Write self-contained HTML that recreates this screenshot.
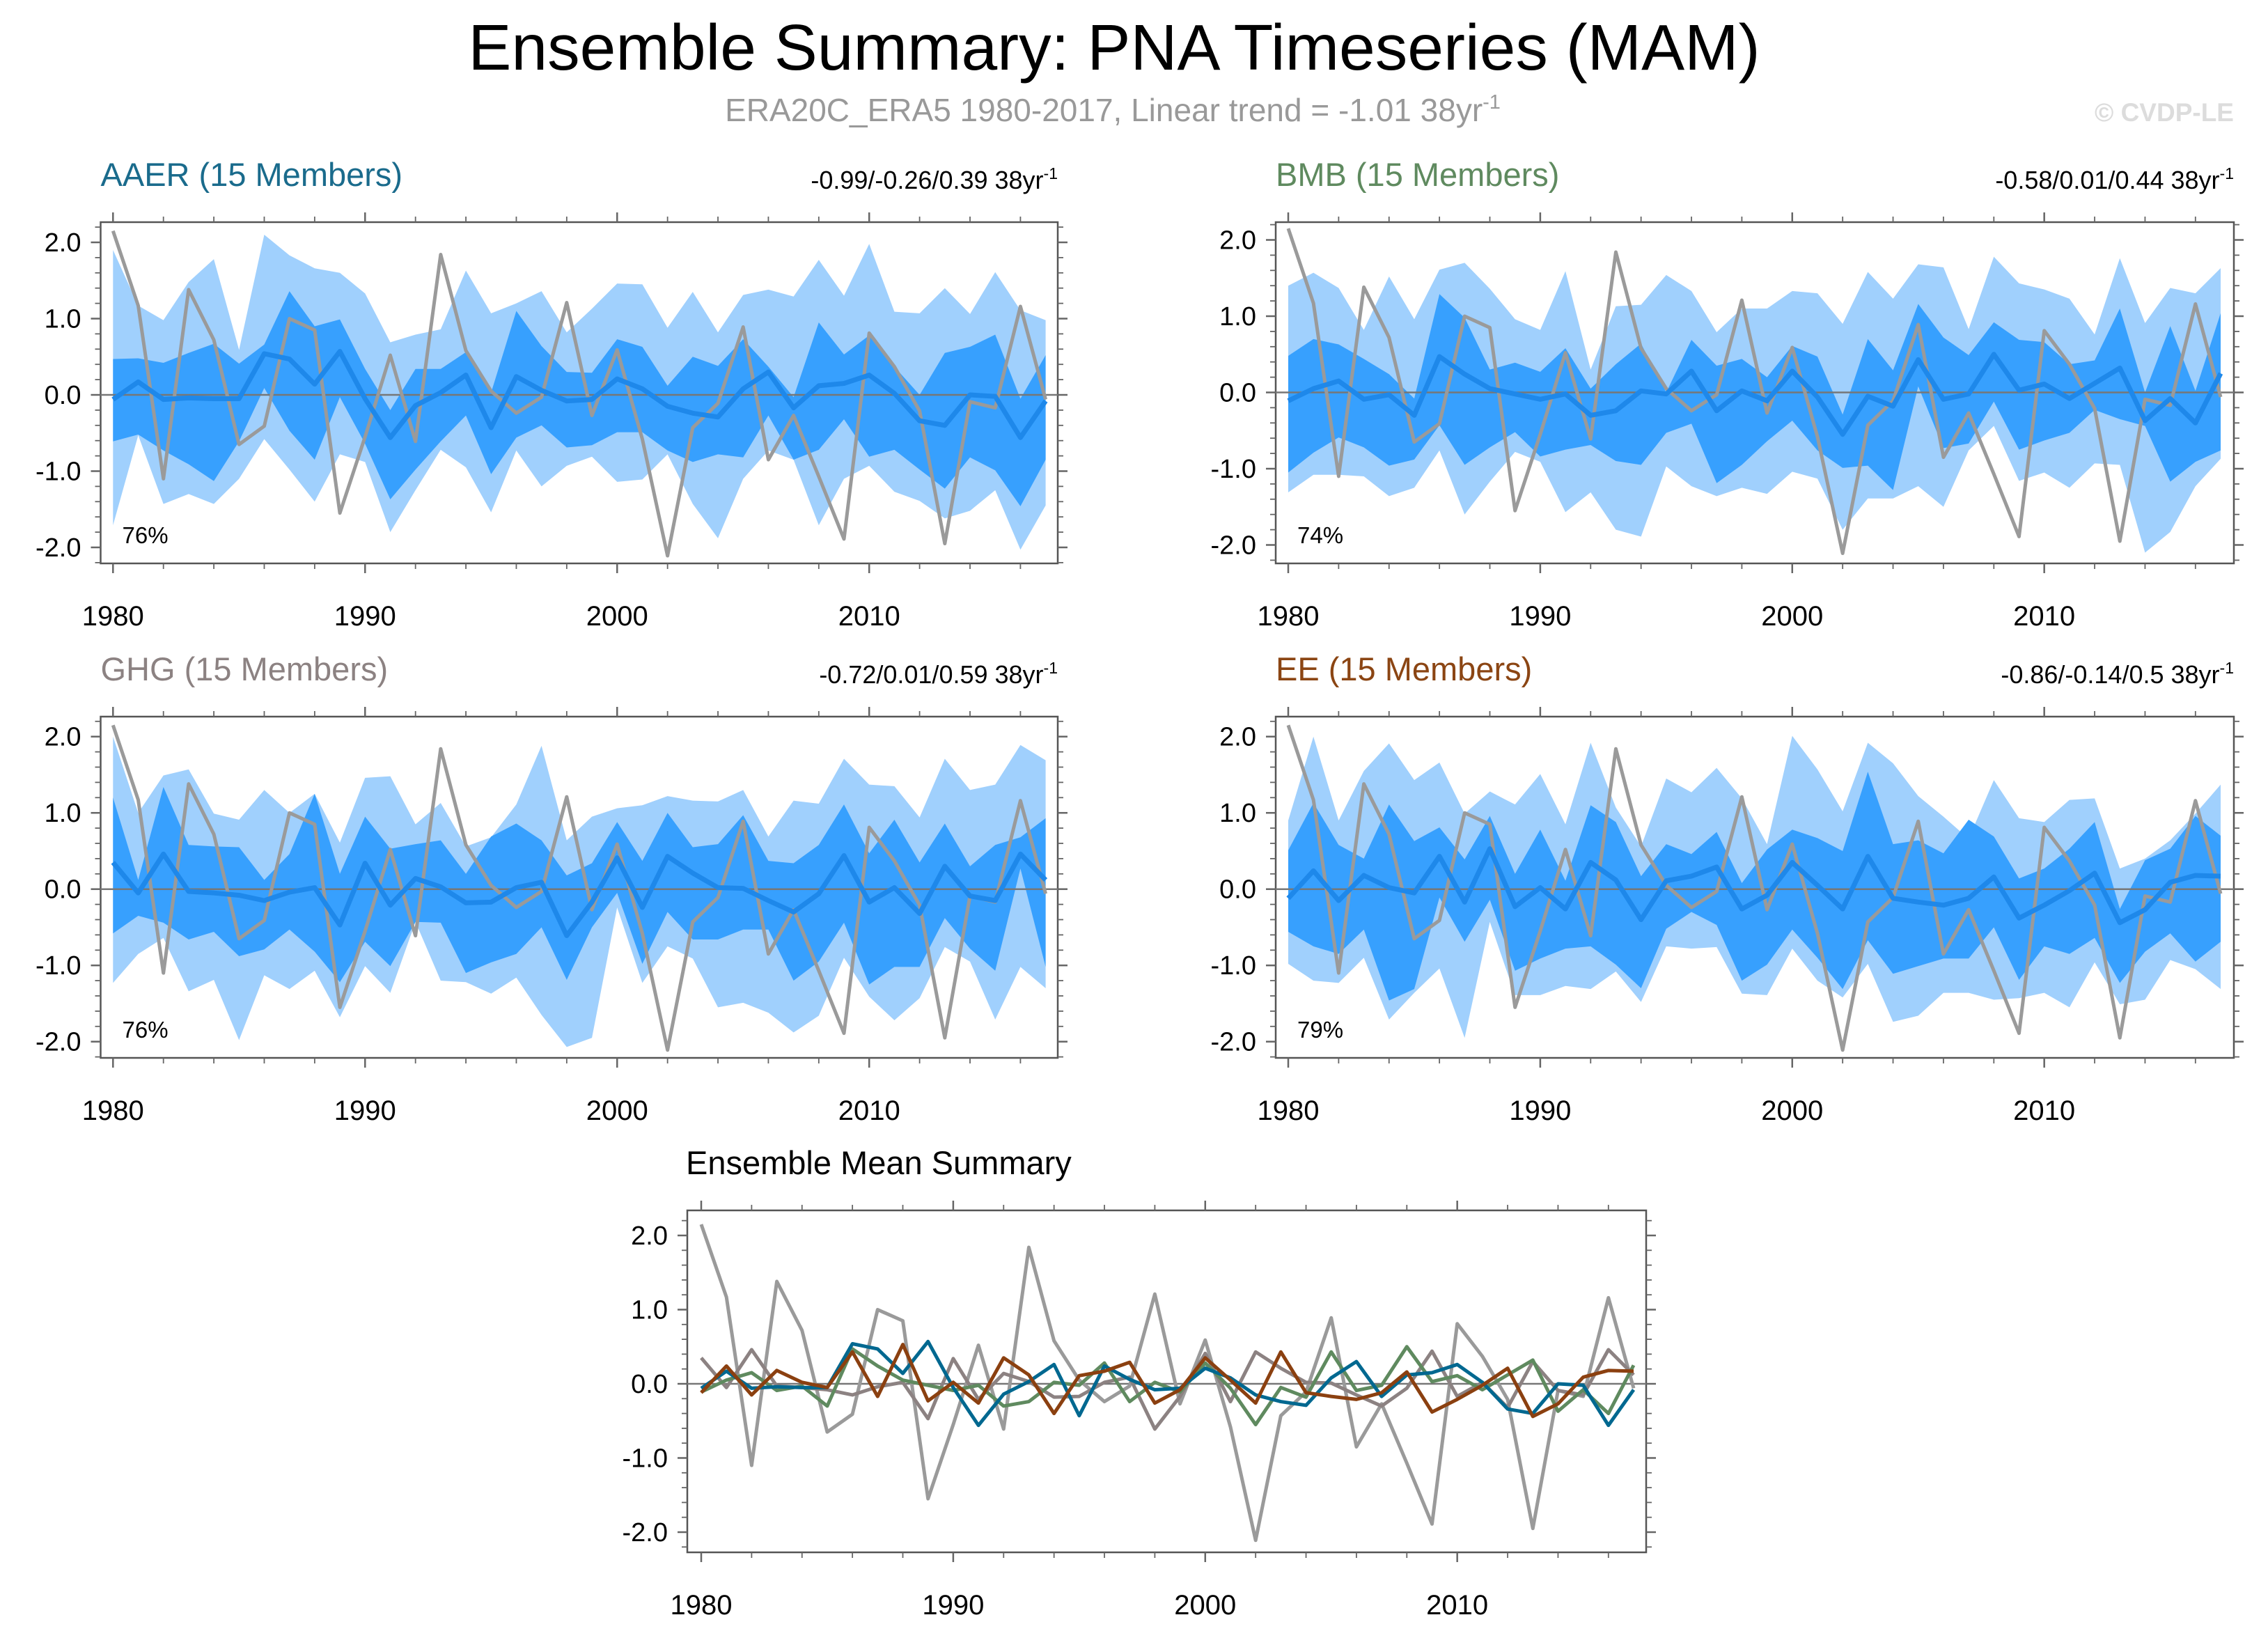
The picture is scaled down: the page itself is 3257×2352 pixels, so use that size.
<!DOCTYPE html>
<html><head><meta charset="utf-8"><style>
html,body{margin:0;padding:0;background:#fff;}
svg{display:block;font-family:"Liberation Sans",sans-serif;}
</style></head><body>
<svg id="root" width="3257" height="2352" viewBox="0 0 3257 2352" xmlns="http://www.w3.org/2000/svg">
<text x="1600" y="100" font-size="93" text-anchor="middle" fill="#000">Ensemble Summary: PNA Timeseries (MAM)</text>
<text x="1598" y="174" font-size="46" text-anchor="middle" fill="#999">ERA20C_ERA5 1980-2017, Linear trend = -1.01 38yr<tspan dy="-18" font-size="29">-1</tspan></text>
<text x="3208" y="174" font-size="37" font-weight="bold" text-anchor="end" fill="#dcdcdc">© CVDP-LE</text>
</svg>
<script>
const years = [];
for (let y = 1980; y <= 2017; y++) years.push(y);
const yTickLabels = ["-2.0","-1.0","0.0","1.0","2.0"];
const yTickValues = [-2,-1,0,1,2];
const xTickYears = [1980,1990,2000,2010];

const obs = [2.15,1.17,-1.1,1.38,0.72,-0.65,-0.41,1.0,0.85,-1.55,-0.55,0.52,-0.61,1.84,0.58,0.05,-0.24,-0.03,1.21,-0.27,0.59,-0.58,-2.11,-0.43,-0.11,0.89,-0.85,-0.27,-1.07,-1.89,0.81,0.37,-0.21,-1.95,-0.09,-0.17,1.16,-0.06];

const aaerMean = [-0.06,0.17,-0.06,-0.04,-0.05,-0.05,0.54,0.47,0.14,0.57,-0.05,-0.56,-0.14,0.03,0.26,-0.43,0.24,0.06,-0.08,-0.06,0.21,0.08,-0.15,-0.24,-0.29,0.08,0.3,-0.17,0.12,0.15,0.26,0.02,-0.34,-0.4,0.0,-0.02,-0.56,-0.08];
const aaerIqrHi = [0.47,0.48,0.42,0.55,0.67,0.41,0.66,1.36,0.9,0.99,0.34,-0.2,0.34,0.34,0.56,0.03,1.1,0.64,0.3,0.29,0.73,0.63,0.12,0.5,0.38,0.73,0.37,-0.03,0.95,0.53,0.78,0.37,0.0,0.55,0.63,0.79,-0.05,0.52];
const aaerIqrLo = [-0.61,-0.52,-0.73,-0.91,-1.13,-0.61,0.09,-0.47,-0.85,-0.03,-0.64,-1.37,-0.98,-0.61,-0.27,-1.04,-0.56,-0.4,-0.69,-0.66,-0.49,-0.49,-0.73,-0.88,-0.78,-0.82,-0.27,-0.85,-0.72,-0.32,-0.81,-0.72,-0.98,-1.23,-0.82,-0.99,-1.46,-0.85];
const aaerMaxV = [1.9,1.17,0.98,1.48,1.78,0.59,2.1,1.83,1.66,1.6,1.33,0.69,0.79,0.86,1.63,1.07,1.2,1.36,0.82,1.13,1.46,1.45,0.88,1.35,0.82,1.31,1.38,1.29,1.77,1.3,1.98,1.09,1.07,1.4,1.06,1.61,1.11,0.98];
const aaerMinV = [-1.71,-0.53,-1.43,-1.3,-1.43,-1.1,-0.58,-0.98,-1.4,-0.78,-0.88,-1.8,-1.25,-0.72,-0.95,-1.54,-0.73,-1.2,-0.93,-0.81,-1.14,-1.11,-0.78,-1.43,-1.88,-1.1,-0.73,-0.85,-1.71,-1.1,-0.93,-1.27,-1.39,-1.62,-1.52,-1.25,-2.03,-1.45];

const bmbMean = [-0.11,0.05,0.15,-0.09,-0.03,-0.3,0.47,0.24,0.05,-0.02,-0.09,-0.02,-0.3,-0.24,0.02,-0.02,0.28,-0.24,0.02,-0.11,0.28,-0.06,-0.55,-0.05,-0.18,0.43,-0.09,-0.02,0.5,0.03,0.11,-0.08,0.12,0.32,-0.37,-0.08,-0.4,0.25];
const bmbIqrHi = [0.48,0.7,0.63,0.44,0.24,-0.08,1.29,0.98,0.3,0.39,0.27,0.58,0.05,0.37,0.64,0.0,0.69,0.35,0.44,0.2,0.61,0.47,-0.29,0.7,0.29,1.16,0.72,0.49,0.92,0.69,0.66,0.37,0.42,1.1,0.0,0.87,0.02,1.04];
const bmbIqrLo = [-1.05,-0.79,-0.59,-0.72,-0.96,-0.88,-0.43,-0.95,-0.72,-0.52,-0.84,-0.75,-0.69,-0.9,-0.95,-0.53,-0.41,-1.19,-0.95,-0.64,-0.37,-0.76,-0.99,-0.96,-1.28,0.08,-0.73,-0.67,-0.12,-0.75,-0.63,-0.53,-0.23,-0.35,-0.44,-1.17,-0.91,-0.76];
const bmbMaxV = [1.4,1.57,1.37,0.82,1.52,0.96,1.61,1.7,1.36,0.96,0.82,1.59,0.3,1.13,1.15,1.54,1.33,0.79,1.1,1.1,1.33,1.3,0.9,1.58,1.23,1.68,1.64,0.83,1.78,1.43,1.35,1.23,0.76,1.76,0.91,1.37,1.3,1.63];
const bmbMinV = [-1.31,-1.08,-1.08,-1.1,-1.36,-1.25,-0.76,-1.6,-1.17,-0.78,-0.91,-1.57,-1.31,-1.8,-1.89,-0.97,-1.23,-1.36,-1.25,-1.33,-1.04,-1.13,-1.8,-1.39,-1.39,-1.23,-1.5,-0.76,-0.44,-1.16,-1.05,-1.25,-0.93,-0.95,-2.1,-1.83,-1.23,-0.87];

const ghgMean = [0.35,-0.05,0.46,-0.03,-0.05,-0.08,-0.15,-0.04,0.02,-0.47,0.34,-0.21,0.14,0.03,-0.18,-0.17,0.02,0.09,-0.61,-0.17,0.41,-0.24,0.43,0.21,0.02,0.01,-0.15,-0.3,-0.06,0.44,-0.17,0.02,-0.32,0.3,-0.09,-0.15,0.46,0.12];
const ghgIqrHi = [1.2,0.12,1.34,0.58,0.56,0.55,0.12,0.46,1.25,0.2,0.95,0.53,0.59,0.64,0.2,0.69,0.86,0.64,0.18,0.34,0.88,0.37,1.0,0.55,0.59,0.97,0.37,0.34,0.58,1.11,0.47,0.91,0.35,0.86,0.3,0.58,0.68,0.93];
const ghgIqrLo = [-0.58,-0.35,-0.44,-0.66,-0.56,-0.88,-0.79,-0.53,-0.82,-1.22,-0.69,-1.01,-0.43,-0.44,-1.1,-0.96,-0.85,-0.5,-1.19,-0.5,-0.05,-0.98,-0.3,-0.66,-0.66,-0.53,-0.53,-1.2,-0.95,-0.44,-1.25,-1.02,-1.02,-0.38,-0.78,-1.07,0.27,-1.02];
const ghgMaxV = [2.0,1.0,1.49,1.57,0.99,0.91,1.3,1.0,1.25,0.61,1.46,1.48,0.85,1.13,0.56,0.68,1.11,1.88,0.64,0.95,1.06,1.1,1.22,1.16,1.15,1.3,0.69,1.16,1.12,1.71,1.37,1.35,0.94,1.71,1.3,1.37,1.89,1.69];
const ghgMinV = [-1.23,-0.85,-0.64,-1.34,-1.19,-1.98,-1.13,-1.31,-1.07,-1.68,-1.01,-1.36,-0.43,-1.2,-1.22,-1.37,-1.16,-1.65,-2.07,-1.95,-0.24,-1.23,-0.75,-0.91,-1.55,-1.49,-1.62,-1.88,-1.66,-0.9,-1.41,-1.72,-1.43,-0.76,-0.95,-1.71,-1.02,-1.3];

const eeMean = [-0.12,0.24,-0.15,0.18,0.02,-0.05,0.43,-0.17,0.53,-0.23,0.02,-0.26,0.35,0.12,-0.4,0.11,0.17,0.29,-0.26,-0.08,0.35,0.05,-0.26,0.43,-0.12,-0.17,-0.21,-0.12,0.16,-0.38,-0.21,-0.02,0.21,-0.44,-0.27,0.09,0.18,0.17];
const eeIqrHi = [0.51,1.13,0.58,0.4,1.11,0.63,0.81,0.39,0.96,0.2,0.78,0.11,1.1,0.88,0.17,0.59,0.46,0.75,0.08,0.52,0.78,0.67,0.5,1.54,0.59,0.64,0.47,0.91,0.69,0.14,0.27,0.53,0.88,-0.26,0.38,0.53,0.96,0.7];
const eeIqrLo = [-0.56,-0.75,-0.85,-0.53,-1.46,-1.31,-0.11,-0.69,-0.14,-1.07,-0.91,-0.78,-0.75,-0.99,-1.3,-0.52,-0.3,-0.47,-1.2,-0.99,-0.53,-0.9,-1.31,-0.67,-1.11,-1.01,-0.91,-0.91,-0.5,-1.19,-0.75,-0.85,-0.64,-1.23,-0.82,-0.58,-0.95,-0.69];
const eeMaxV = [0.9,2.0,0.9,1.55,1.91,1.43,1.66,0.99,1.28,1.11,1.51,0.85,1.92,1.07,0.56,1.45,1.27,1.59,1.19,0.59,2.01,1.57,1.02,1.92,1.65,1.22,0.95,0.66,1.43,0.93,0.88,1.17,1.19,0.27,0.4,0.64,0.99,1.37];
const eeMinV = [-0.98,-1.2,-1.23,-0.9,-1.71,-1.36,-1.04,-1.95,-0.43,-1.39,-1.39,-1.27,-1.31,-1.08,-1.48,-0.75,-0.78,-0.76,-1.37,-1.39,-0.78,-1.2,-1.42,-0.98,-1.74,-1.66,-1.36,-1.36,-1.45,-1.43,-1.36,-1.55,-0.96,-1.51,-1.45,-0.93,-1.05,-1.31];

const NS = "http://www.w3.org/2000/svg";
const root = document.getElementById("root");
function mk(tag, attrs, parent) {
  const e = document.createElementNS(NS, tag);
  for (const k in attrs) e.setAttribute(k, attrs[k]);
  (parent || root).appendChild(e);
  return e;
}

function makePanel(cfg) {
  const g = mk("g", {});
  
  
  const xs = yr => cfg.x1980 + (yr - 1980) * (cfg.x2017 - cfg.x1980) / 37;
  const ys = v => cfg.zeroY - v * cfg.unit;

  const frame = mk("rect", {x: cfg.bx0, y: cfg.by0, width: cfg.bx1 - cfg.bx0, height: cfg.by1 - cfg.by0, fill: "#fff", stroke: "#555", "stroke-width": 2.5}, g);
  
  

  if (cfg.bands) {
    const b = cfg.bands;
    let up = years.map((y, i) => xs(y) + "," + ys(b.max[i])).join(" ");
    let dn = years.map((y, i) => xs(y) + "," + ys(b.min[i])).reverse().join(" ");
    const outer = mk("polygon", {points: up + " " + dn, fill: "#a0d0fd"}, g);
    
    
    up = years.map((y, i) => xs(y) + "," + ys(b.hi[i])).join(" ");
    dn = years.map((y, i) => xs(y) + "," + ys(b.lo[i])).reverse().join(" ");
    const inner = mk("polygon", {points: up + " " + dn, fill: "#37a0fe"}, g);
    
    
  }
  const zl = mk("line", {x1: cfg.bx0, x2: cfg.bx1, y1: ys(0), y2: ys(0), stroke: "#777", "stroke-width": 2.5}, g);
  
  

  const obsL = mk("polyline", {points: years.map((y, i) => xs(y) + "," + ys(obs[i])).join(" "), fill: "none", stroke: "#9a9a9a", "stroke-width": 5, "stroke-linejoin": "round"}, g);
  
  

  cfg.lines.forEach(L => {
    const pl = mk("polyline", {points: years.map((y, i) => xs(y) + "," + ys(L.data[i])).join(" "), fill: "none", stroke: L.color, "stroke-width": L.w, "stroke-linejoin": "round"}, g);
    
    
  });

  for (let k = -11; k <= 11; k++) {
    const v = k * 0.2;
    const y = ys(v);
    if (y < cfg.by0 || y > cfg.by1) continue;
    const major = (k % 5 === 0);
    const len = major ? 14 : 8;
    const t1 = mk("line", {x1: cfg.bx0 - len, x2: cfg.bx0, y1: y, y2: y, stroke: "#666", "stroke-width": major ? 2.5 : 1.8}, g);
    
    
    const t2 = mk("line", {x1: cfg.bx1, x2: cfg.bx1 + len, y1: y, y2: y, stroke: "#666", "stroke-width": major ? 2.5 : 1.8}, g);
    
    
  }
  yTickValues.forEach((v, i) => {
    const t = mk("text", {x: cfg.bx0 - 28, y: ys(v) + 13, "font-size": 38, "text-anchor": "end", fill: "#000"}, g);
    t.textContent = yTickLabels[i];
    
    
  });
  for (let yr = 1980; yr <= 2017; yr += 2) {
    const x = xs(yr);
    const major = (yr % 10 === 0);
    const len = major ? 14 : 8;
    const tb = mk("line", {x1: x, x2: x, y1: cfg.by1, y2: cfg.by1 + len, stroke: "#666", "stroke-width": major ? 2.5 : 1.8}, g);
    
    
    const tt = mk("line", {x1: x, x2: x, y1: cfg.by0 - len, y2: cfg.by0, stroke: "#666", "stroke-width": major ? 2.5 : 1.8}, g);
    
    
  }
  xTickYears.forEach(yr => {
    const t = mk("text", {x: xs(yr), y: cfg.by1 + 89, "font-size": 40, "text-anchor": "middle", fill: "#000"}, g);
    t.textContent = String(yr);
    
    
  });
  const ti = mk("text", {x: cfg.bx0 + (cfg.titleDx || 0), y: cfg.by0 - 52, "font-size": 47, fill: cfg.titleColor}, g);
  ti.textContent = cfg.title;
  
  
  if (cfg.trend) {
    const tr = mk("text", {x: cfg.bx1, y: cfg.by0 - 48, "font-size": 36, "text-anchor": "end", fill: "#000"}, g);
    tr.textContent = cfg.trend + " 38yr";
    const sup = mk("tspan", {dy: -14, "font-size": 23}, tr);
    sup.textContent = "-1";
    
    
  }
  if (cfg.pct) {
    const pc = mk("text", {x: cfg.bx0 + 31, y: cfg.by1 - 29, "font-size": 33, fill: "#000"}, g);
    pc.textContent = cfg.pct;
    
    
  }
}

const L_ = {bx0: 144.5, bx1: 1519, x1980: 162.3, x2017: 1501.6};
const R_ = {bx0: 1832, bx1: 3208, x1980: 1850, x2017: 3189};
const meanColor = "#1e88ea";

makePanel(Object.assign({}, L_, {name: "aaer", by0: 319, by1: 809, zeroY: 567, unit: 109.5, title: "AAER (15 Members)", titleColor: "#1a6b8c", trend: "-0.99/-0.26/0.39", pct: "76%",
  bands: {max: aaerMaxV, min: aaerMinV, hi: aaerIqrHi, lo: aaerIqrLo}, lines: [{data: aaerMean, color: meanColor, w: 7, name: "aaer-ensemble-mean"}]}));
makePanel(Object.assign({}, R_, {name: "bmb", by0: 319, by1: 809, zeroY: 563.5, unit: 109.5, title: "BMB (15 Members)", titleColor: "#5f8a5f", trend: "-0.58/0.01/0.44", pct: "74%",
  bands: {max: bmbMaxV, min: bmbMinV, hi: bmbIqrHi, lo: bmbIqrLo}, lines: [{data: bmbMean, color: meanColor, w: 7, name: "bmb-ensemble-mean"}]}));
makePanel(Object.assign({}, L_, {name: "ghg", by0: 1029, by1: 1519, zeroY: 1276.7, unit: 109.5, title: "GHG (15 Members)", titleColor: "#8c8282", trend: "-0.72/0.01/0.59", pct: "76%",
  bands: {max: ghgMaxV, min: ghgMinV, hi: ghgIqrHi, lo: ghgIqrLo}, lines: [{data: ghgMean, color: meanColor, w: 7, name: "ghg-ensemble-mean"}]}));
makePanel(Object.assign({}, R_, {name: "ee", by0: 1029, by1: 1519, zeroY: 1276.7, unit: 109.5, title: "EE (15 Members)", titleColor: "#8b4513", trend: "-0.86/-0.14/0.5", pct: "79%",
  bands: {max: eeMaxV, min: eeMinV, hi: eeIqrHi, lo: eeIqrLo}, lines: [{data: eeMean, color: meanColor, w: 7, name: "ee-ensemble-mean"}]}));
makePanel({name: "ensemble-mean-summary", bx0: 987, bx1: 2364, x1980: 1007, x2017: 2346, by0: 1738, by1: 2229, zeroY: 1987, unit: 106.5,
  title: "Ensemble Mean Summary", titleColor: "#000", titleDx: -2,
  lines: [
    {data: ghgMean, color: "#8c8282", w: 5, name: "ghg-mean-line"},
    {data: bmbMean, color: "#5f8a5f", w: 5, name: "bmb-mean-line"},
    {data: aaerMean, color: "#006890", w: 5, name: "aaer-mean-line"},
    {data: eeMean, color: "#8b4010", w: 5, name: "ee-mean-line"}
  ]});
</script>
</body></html>
